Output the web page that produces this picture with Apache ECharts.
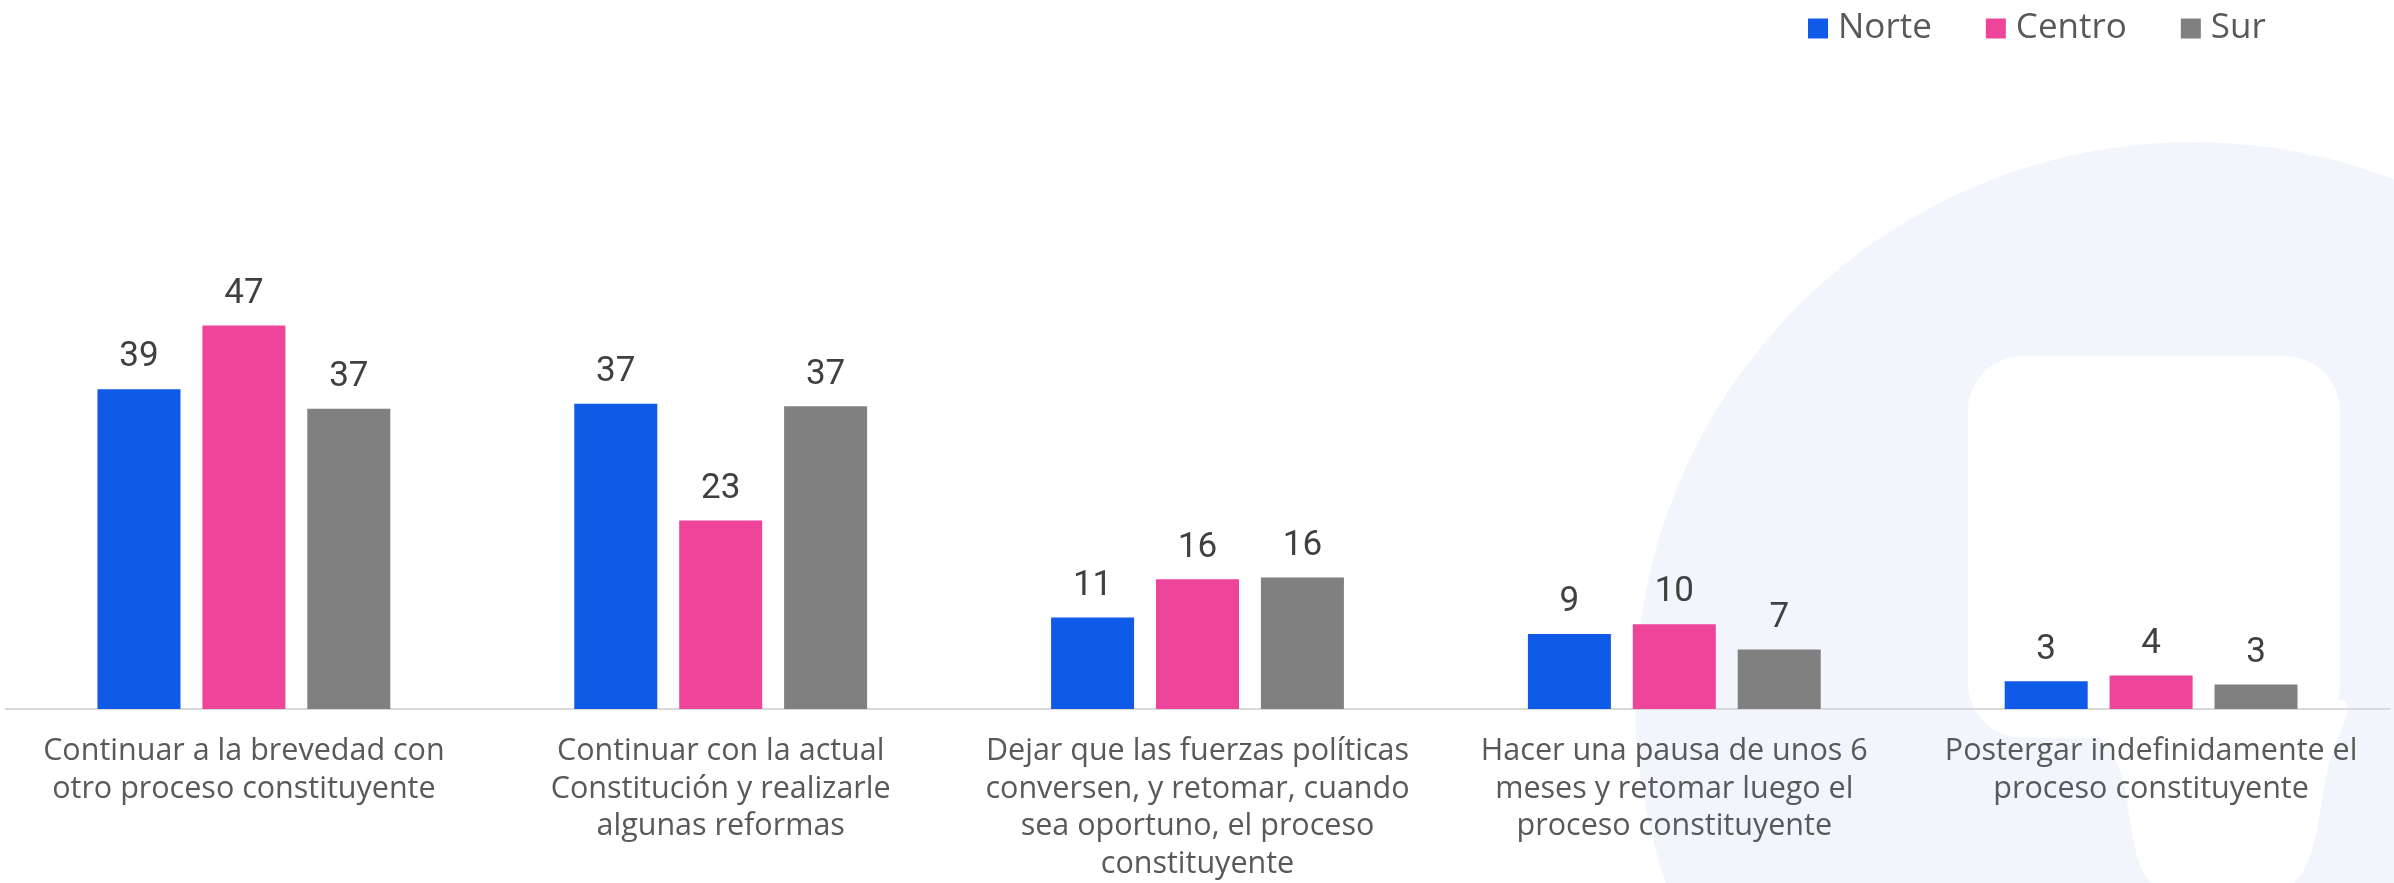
<!DOCTYPE html>
<html>
<head>
<meta charset="utf-8">
<script src="https://cdn.jsdelivr.net/npm/echarts@6/dist/echarts.min.js"></script>
<style>
html,body{margin:0;padding:0;background:#fff;}
#chart{width:2394px;height:883px;}
</style>
</head>
<body>
<div id="chart"></div>
<script>
var categories = [
  "Continuar a la brevedad con\notro proceso constituyente",
  "Continuar con la actual\nConstitución y realizarle\nalgunas reformas",
  "Dejar que las fuerzas políticas\nconversen, y retomar, cuando\nsea oportuno, el proceso\nconstituyente",
  "Hacer una pausa de unos 6\nmeses y retomar luego el\nproceso constituyente",
  "Postergar indefinidamente el\nproceso constituyente"
];
var seriesNames = ["Norte", "Centro", "Sur"];
var norte = [39.2, 37.4, 11.2, 9.2, 3.4];
var centro = [47.0, 23.1, 15.9, 10.4, 4.1];
var sur = [36.8, 37.1, 16.1, 7.3, 3.0];
var colors = ["#0f5ae6", "#ee4499", "#808080"];

var chart = echarts.init(document.getElementById('chart'), null, {renderer: 'canvas'});
var FONT = 'Open Sans';

function mk(name, data, color) {
  return {
    name: name,
    type: 'bar',
    data: data,
    barWidth: 83,
    barGap: '26.4%',
    itemStyle: {color: color},
    label: {
      show: true,
      position: 'top',
      distance: 14,
      color: '#404040',
      fontFamily: 'Roboto',
      fontSize: 35,
      formatter: function (p) { return Math.round(p.value); }
    }
  };
}

chart.setOption({
  animation: false,
  backgroundColor: '#ffffff',
  textStyle: {fontFamily: FONT},
  graphic: [
    {type: 'circle', z: -10, silent: true, shape: {cx: 2193, cy: 700, r: 558}, style: {fill: '#f3f5fc'}},
    {type: 'rect', z: -9, silent: true, shape: {x: 1968, y: 356, width: 372, height: 382, r: 55}, style: {fill: '#ffffff'}},
    {type: 'polygon', z: -9, silent: true, shape: {points: [[2085, 700], [2343, 700], [2330, 760], [2293, 883], [2153, 883], [2120, 770]], smooth: 0.3}, style: {fill: '#ffffff'}}
  ],
  legend: {
    data: seriesNames,
    left: 1803,
    top: 6,
    itemWidth: 20,
    itemHeight: 20,
    itemGap: 54,
    icon: 'rect',
    textStyle: {color: '#595959', fontSize: 35, fontFamily: FONT, padding: [0, 0, 0, 5]}
  },
  grid: {left: 5.5, right: 4.5, top: 301, bottom: 167, containLabel: false},
  xAxis: {
    type: 'category',
    data: categories,
    axisLine: {show: true, lineStyle: {color: '#d9d9d9', width: 2}},
    axisTick: {show: false},
    axisLabel: {
      interval: 0,
      margin: 24,
      color: '#595959',
      fontFamily: FONT,
      fontSize: 30.5,
      lineHeight: 37.5
    }
  },
  yAxis: {
    type: 'value',
    min: 0,
    max: 50,
    show: false,
    splitLine: {show: false}
  },
  series: [
    mk(seriesNames[0], norte, colors[0]),
    mk(seriesNames[1], centro, colors[1]),
    mk(seriesNames[2], sur, colors[2])
  ]
});
</script>
</body>
</html>
